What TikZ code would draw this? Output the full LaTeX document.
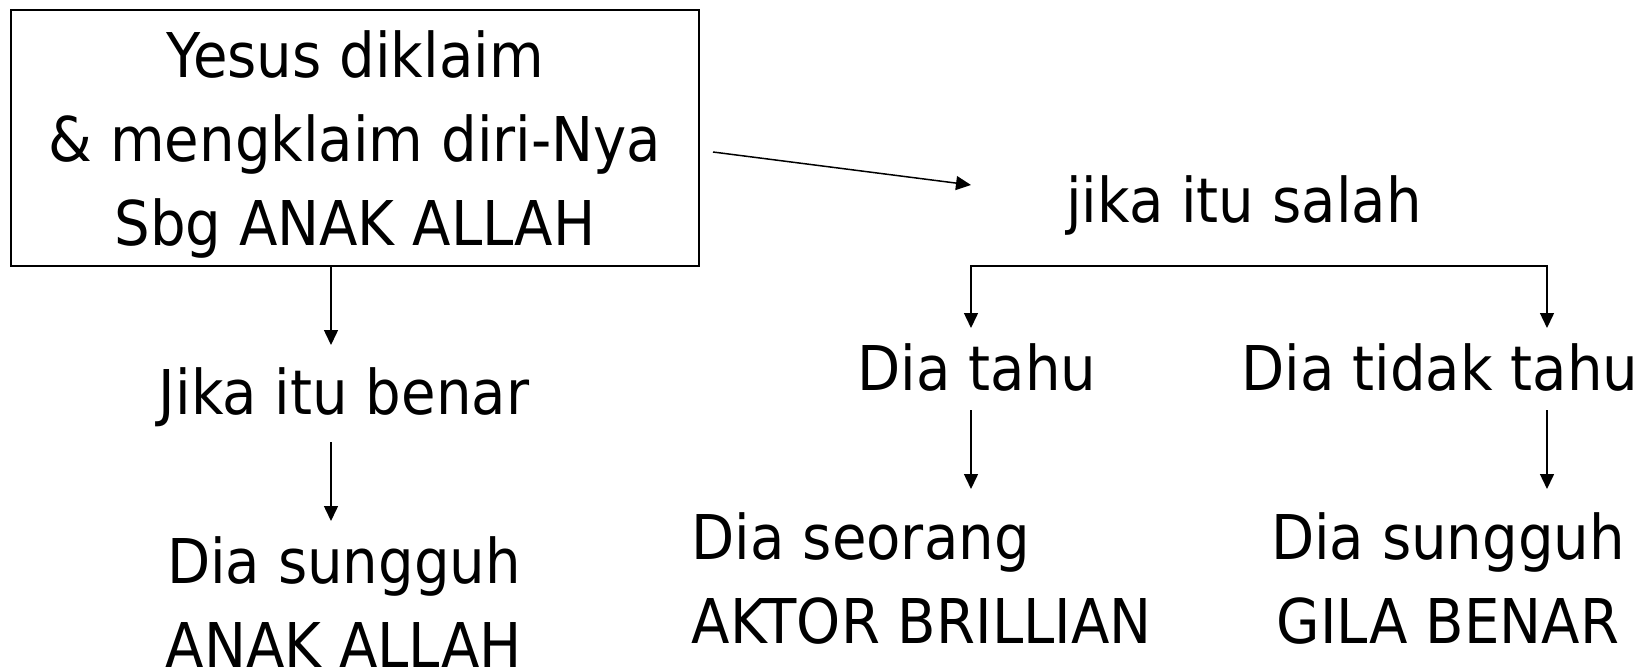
\documentclass[tikz,border=0pt]{standalone}
\usepackage{fontspec}
\setmainfont[FakeStretch=0.91]{DejaVu Sans}
\usetikzlibrary{arrows.meta}

\begin{document}
\begin{tikzpicture}[>={Triangle[length=7.5bp,width=7bp]}, line width=0.75bp, scale=0.5]
 \tikzstyle{every node}=[font=\fontsize{30.85bp}{42bp}\selectfont, inner sep=0pt]
 \tikzstyle{txt}=[anchor=base, align=center]
 \useasboundingbox (0bp,0bp) rectangle (1642bp,-668bp);

 \node (claim) at (355bp,-138bp) [draw, line width=1bp, minimum width=344bp, minimum height=128bp, align=center, text depth=0pt]
 	{Yesus diklaim\\ \& mengklaim diri-Nya\\ Sbg ANAK ALLAH};

 \node (salah) at (1244bp,-222bp) [txt] {jika itu salah};
 \node (benar) at (344bp,-414bp) [txt] {Jika itu benar};
 \node (anak) at (344bp,-667bp) [txt] {Dia sungguh\\ANAK ALLAH}; % base = last line
 \node (tahu) at (977bp,-390bp) [txt] {Dia tahu};
 \node (tidaktahu) at (1440bp,-390bp) [txt] {Dia tidak tahu};
 \node (aktor) at (691bp,-643bp) [txt, anchor=base west, align=left] {Dia seorang\\AKTOR BRILLIAN};
 \node (gila) at (1448bp,-643bp) [txt] {Dia sungguh\\GILA BENAR};

 \coordinate (claimout) at (713bp,-152bp);
 \coordinate (salahin) at (971bp,-185bp);
 \coordinate (benarin) at (331bp,-345bp);
 \coordinate (benarout) at (331bp,-442bp);
 \coordinate (anakin) at (331bp,-521bp);
 \coordinate (fork) at (1259bp,-266bp);
 \coordinate (tahuin) at (971bp,-328bp);
 \coordinate (tidaktahuin) at (1547bp,-328bp);
 \coordinate (tahuout) at (971bp,-410bp);
 \coordinate (aktorin) at (971bp,-489bp);
 \coordinate (tidaktahuout) at (1547bp,-410bp);
 \coordinate (gilain) at (1547bp,-489bp);

 \draw [->] (claimout) -- (salahin);
 \draw [->] (claim.south -| benarin) -- (benarin);
 \draw [->] (benarout) -- (anakin);
 \draw [<->] (tahuin) |- (fork) -| (tidaktahuin);
 \draw [->] (tahuout) -- (aktorin);
 \draw [->] (tidaktahuout) -- (gilain);

\end{tikzpicture}
\end{document}
